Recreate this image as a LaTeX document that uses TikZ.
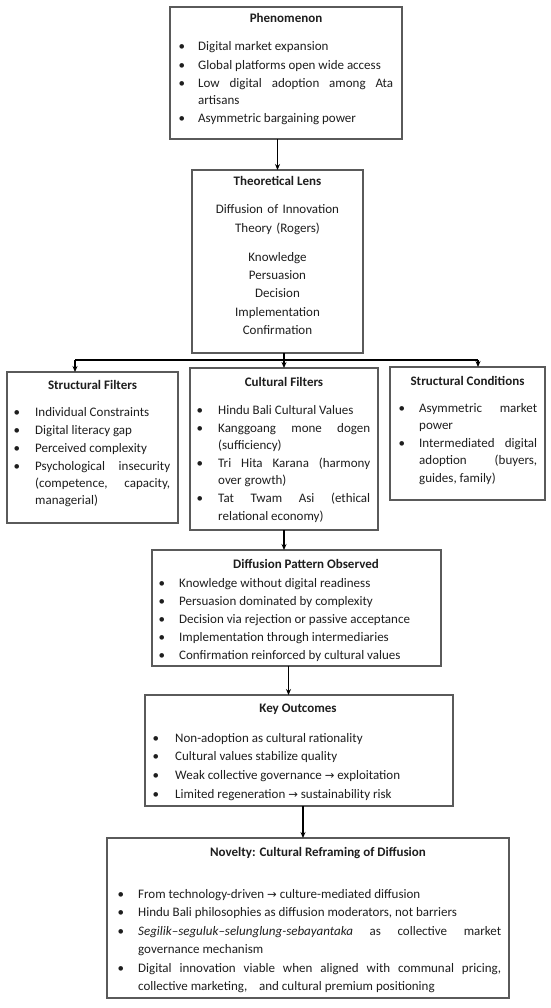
\documentclass[tikz,border=0pt]{standalone}
\usepackage{fontspec}
\setmainfont{Carlito}
\newfontfamily\symf{DejaVu Sans}
\usetikzlibrary{arrows.meta}
\definecolor{txt}{HTML}{1E1E1E}
\definecolor{bord}{HTML}{5A5A5A}
\newlength\bgap
\newlength\isp
\tolerance=10000
\hyphenpenalty=10000
\exhyphenpenalty=10000
\newcommand\bitem[1]{\noindent\llap{\textbullet\hspace{\bgap}}#1\par\vspace{\isp}}
\newcommand\ar{{\symf\fontsize{11.5}{10}\selectfont→}}
\tikzset{
  box/.style={draw=bord, line width=1.2pt, anchor=north west, inner sep=0pt, outer sep=0pt},
  ttl/.style={font=\fontsize{13}{17}\selectfont\bfseries, text=txt, anchor=base, inner sep=0pt},
  lst/.style={text=txt, anchor=base west, inner sep=0pt, align=justify,
    font=\fontsize{13}{17.4}\selectfont},
  ctr/.style={text=txt, anchor=base, inner sep=0pt, align=center, text width=160pt,
    font=\fontsize{13}{18.4}\selectfont},
  arr/.style={draw=black, line width=1.2pt, -{Stealth[length=6pt,width=5pt]}},
  ln/.style={draw=black, line width=1.2pt}
}
\begin{document}
\begin{tikzpicture}[x=1pt,y=-1pt]
\useasboundingbox[fill=white] (0,0) rectangle (550,1008);
% boxes
\node[box, minimum width=232pt, minimum height=132pt] (phen) at (170,7) {};
\node[box, minimum width=171pt, minimum height=183pt] (lens) at (192,170) {};
\node[box, minimum width=171pt, minimum height=151pt] (sf) at (7,372) {};
\node[box, minimum width=188pt, minimum height=162pt] (cf) at (190,368) {};
\node[box, minimum width=155pt, minimum height=133pt] (sc) at (390,367) {};
\node[box, minimum width=289pt, minimum height=116pt] (diff) at (152,550) {};
\node[box, minimum width=308pt, minimum height=111pt] (key) at (145,695) {};
\node[box, minimum width=402pt, minimum height=160pt] (nov) at (107,838) {};
% Phenomenon
\node[ttl] (phent) at (286,23) {Phenomenon};
\setlength\bgap{13pt}\setlength\isp{0.8pt}
\node[lst, text width=195pt] (phenl) at (198,51) {%
\bitem{Digital market expansion}
\bitem{Global platforms open wide access}
\bitem{Low digital adoption among Ata\linebreak artisans}
\bitem{Asymmetric bargaining power}};
% Lens
\node[ttl] (lenst) at (277.5,186) {Theoretical Lens};
\node[ctr] (lensa) at (277.5,214) {Diffusion of Innovation\\Theory (Rogers)};
\node[ctr] (lensb) at (277.5,261) {Knowledge\\Persuasion\\Decision\\Implementation\\Confirmation};
% Structural filters
\node[ttl] (sft) at (92.5,389) {Structural Filters};
\setlength\bgap{15pt}\setlength\isp{0.6pt}
\node[lst, text width=135pt] (sfl) at (35,416) {%
\bitem{Individual Constraints}
\bitem{Digital literacy gap}
\bitem{Perceived complexity}
\bitem{Psychological insecurity\linebreak (competence, capacity,\linebreak managerial)}};
% Cultural filters
\node[ttl] (cft) at (284,386) {Cultural Filters};
\node[lst, text width=152pt] (cfl) at (218,414) {%
\bitem{Hindu Bali Cultural Values}
\bitem{Kanggoang mone dogen\linebreak (sufficiency)}
\bitem{Tri Hita Karana (harmony\linebreak over growth)}
\bitem{Tat Twam Asi (ethical\linebreak relational economy)}};
% Structural conditions
\node[ttl] (sct) at (467.5,385) {Structural Conditions};
\setlength\bgap{14pt}
\node[lst, text width=118pt] (scl) at (419,412) {%
\bitem{Asymmetric market\linebreak power}
\bitem{Intermediated digital\linebreak adoption (buyers,\linebreak guides, family)}};
% Diffusion pattern
\node[ttl] (difft) at (306,568) {Diffusion Pattern Observed};
\setlength\bgap{14pt}
\node[lst, text width=255pt] (diffl) at (179,587) {%
\bitem{Knowledge without digital readiness}
\bitem{Persuasion dominated by complexity}
\bitem{Decision via rejection or passive acceptance}
\bitem{Implementation through intermediaries}
\bitem{Confirmation reinforced by cultural values}};
% Key outcomes
\node[ttl] (keyt) at (298,712) {Key Outcomes};
\setlength\bgap{16pt}\setlength\isp{1.5pt}
\node[lst, text width=270pt] (keyl) at (175,742) {%
\bitem{Non-adoption as cultural rationality}
\bitem{Cultural values stabilize quality}
\bitem{Weak collective governance \ar{} exploitation}
\bitem{Limited regeneration \ar{} sustainability risk}};
% Novelty
\node[ttl] (novt) at (318,856) {Novelty: Cultural Reframing of Diffusion};
\setlength\bgap{14pt}\setlength\isp{0pt}
\node[lst, text width=363pt, font=\fontsize{13}{18.5}\selectfont] (novl) at (138,898) {%
\bitem{From technology-driven \ar{} culture-mediated diffusion}
\bitem{Hindu Bali philosophies as diffusion moderators, not barriers}
\bitem{\textit{Segilik–seguluk–selunglung-sebayantaka} as collective market\linebreak governance mechanism}
\bitem{Digital innovation viable when aligned with communal pricing,\linebreak collective marketing,\ \ \ \ and cultural premium positioning}};
% connectors
\draw[arr] (lens.north |- phen.south) -- (lens.north);
\draw[arr] (cf.north |- lens.south) -- (cf.north);
\coordinate (jl) at (75,360);
\coordinate (jr) at (478,360);
\draw[ln] (jl) -- (jr);
\draw[arr] (jl) -- (jl |- sf.north);
\draw[arr] (jr) -- (jr |- sc.north);
\draw[arr] (cf.south) -- (cf.south |- diff.north);
\draw[arr] ([xshift=-8pt]diff.south) -- ([xshift=-8pt]diff.south |- key.north);
\draw[arr] ([xshift=4pt]key.south) -- ([xshift=4pt]key.south |- nov.north);
\end{tikzpicture}
\end{document}
